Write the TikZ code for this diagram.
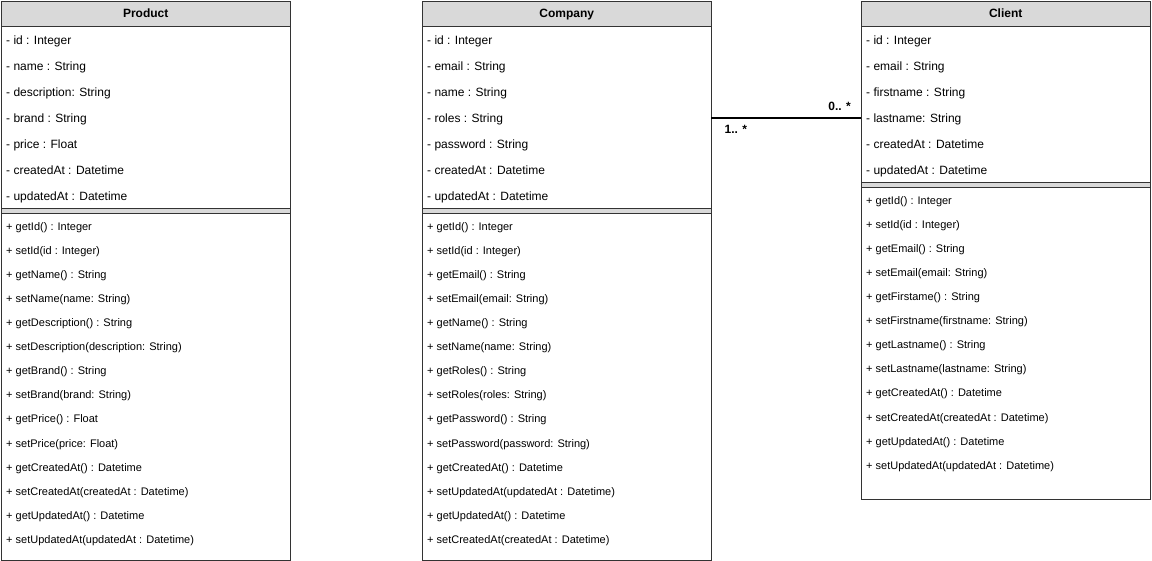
\documentclass[tikz,border=0pt]{standalone}
\usepackage{fontspec}
\setmainfont{Liberation Sans}
\usetikzlibrary{positioning}

\tikzset{
  classbox/.style={draw=black!80, fill=white, minimum width=289pt, anchor=north west, inner sep=0pt},
  classhead/.style={draw=black!80, fill=black!15, minimum width=289pt, minimum height=25pt, anchor=north west, inner sep=0pt, text height=10pt, text depth=3pt, font=\fontsize{12}{14}\selectfont\bfseries},
  sepbar/.style={draw=black!80, fill=black!15, minimum width=289pt, minimum height=5pt, anchor=north west, inner sep=0pt},
  attr/.style={anchor=base west, inner sep=0pt, font=\fontsize{12}{14}\selectfont},
  meth/.style={anchor=base west, inner sep=0pt, font=\fontsize{11}{13}\selectfont},
  assoc/.style={draw=black, line width=1.5pt},
  mult/.style={inner sep=0pt, font=\fontsize{12}{14}\selectfont\bfseries}
}

\begin{document}
\begin{tikzpicture}[x=1pt, y=-1pt]
  \useasboundingbox (0,0) rectangle (1152,561);

  % Product
  \node[classbox, minimum height=559pt] (product) at (1,1) {};
  \node[classhead] (producthead) at (product.north west) {Product};
  \foreach \t [count=\i] in {- id : Integer, - name : String, - description: String, - brand : String, - price : Float, - createdAt : Datetime, - updatedAt : Datetime}
    \node[attr] (pa\i) at (6,{18.3+26*\i}) {\t};
  \node[sepbar] (productsep) at (1,208) {};
  \foreach \t [count=\i] in {+ getId() : Integer, + setId(id : Integer), + getName() : String, + setName(name: String), + getDescription() : String, + setDescription(description: String), + getBrand() : String, + setBrand(brand: String), + getPrice() : Float, + setPrice(price: Float), + getCreatedAt() : Datetime, + setCreatedAt(createdAt : Datetime), + getUpdatedAt() : Datetime, + setUpdatedAt(updatedAt : Datetime)}
    \node[meth] (pm\i) at (6,{207+24*\i}) {\t};

  % Company
  \node[classbox, minimum height=559pt] (company) at (422,1) {};
  \node[classhead] (companyhead) at (company.north west) {Company};
  \foreach \t [count=\i] in {- id : Integer, - email : String, - name : String, - roles : String, - password : String, - createdAt : Datetime, - updatedAt : Datetime}
    \node[attr] (ca\i) at (427,{18.3+26*\i}) {\t};
  \node[sepbar] (companysep) at (422,208) {};
  \foreach \t [count=\i] in {+ getId() : Integer, + setId(id : Integer), + getEmail() : String, + setEmail(email: String), + getName() : String, + setName(name: String), + getRoles() : String, + setRoles(roles: String), + getPassword() : String, + setPassword(password: String), + getCreatedAt() : Datetime, + setUpdatedAt(updatedAt : Datetime), + getUpdatedAt() : Datetime, + setCreatedAt(createdAt : Datetime)}
    \node[meth] (cm\i) at (427,{207+24*\i}) {\t};

  % Client
  \node[classbox, minimum height=498pt] (client) at (861,1) {};
  \node[classhead] (clienthead) at (client.north west) {Client};
  \foreach \t [count=\i] in {- id : Integer, - email : String, - firstname : String, - lastname: String, - createdAt : Datetime, - updatedAt : Datetime}
    \node[attr] (la\i) at (866,{18.3+26*\i}) {\t};
  \node[sepbar] (clientsep) at (861,182) {};
  \foreach \t [count=\i] in {+ getId() : Integer, + setId(id : Integer), + getEmail() : String, + setEmail(email: String), + getFirstame() : String, + setFirstname(firstname: String), + getLastname() : String, + setLastname(lastname: String), + getCreatedAt() : Datetime, + setCreatedAt(createdAt : Datetime), + getUpdatedAt() : Datetime, + setUpdatedAt(updatedAt : Datetime)}
    \node[meth] (lm\i) at (866,{181+24*\i}) {\t};

  % Association
  \coordinate (assocstart) at (company.east |- 0,118);
  \coordinate (assocend) at (client.west |- 0,118);
  \draw[assoc] (assocstart) -- (assocend);
  \node[mult, anchor=south east] (multclient) at ([xshift=-10pt, yshift=7pt]assocend) {0.. *};
  \node[mult, anchor=north west] (multcompany) at ([xshift=13pt, yshift=-7pt]assocstart) {1.. *};
\end{tikzpicture}
\end{document}
